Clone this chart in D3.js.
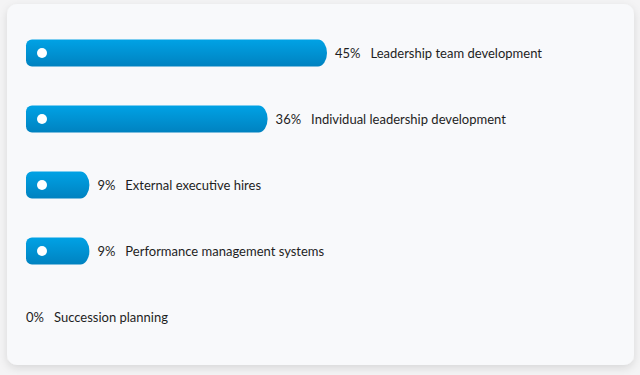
<!DOCTYPE html>
<html>
<head>
<meta charset="utf-8">
<script src="https://cdn.jsdelivr.net/npm/d3@7"></script>
<style>
  html, body { margin: 0; padding: 0; background: #f4f4f5; }
  svg { display: block; }
</style>
</head>
<body>
<div id="drawing"></div>
<script>
// data
var categories = ["Leadership team development", "Individual leadership development",
  "External executive hires", "Performance management systems", "Succession planning"];
var values = [45, 36, 9, 9, 0];
var valueLabels = ["45%", "36%", "9%", "9%", "0%"];

var width = 640;
var height = 375;
var left = 26;
var barH = 27;

var svg = d3.select("#drawing").append("svg")
  .attr("width", width)
  .attr("height", height);

var defs = svg.append("defs");

var grad = defs.append("linearGradient")
  .attr("id", "barGrad")
  .attr("x1", 0).attr("y1", 0).attr("x2", 0).attr("y2", 1);
grad.append("stop").attr("offset", "0%").attr("stop-color", "#00a2e5");
grad.append("stop").attr("offset", "100%").attr("stop-color", "#0082c0");

var shadow = defs.append("filter")
  .attr("id", "cardShadow")
  .attr("x", "-10%").attr("y", "-10%").attr("width", "120%").attr("height", "125%");
shadow.append("feDropShadow")
  .attr("dx", 0).attr("dy", 3)
  .attr("stdDeviation", 4)
  .attr("flood-color", "#000")
  .attr("flood-opacity", 0.12);

// card
svg.append("rect")
  .attr("x", 7).attr("y", 4)
  .attr("width", 627).attr("height", 361)
  .attr("rx", 10)
  .attr("fill", "#f8f9fb")
  .attr("filter", "url(#cardShadow)");

// scales
var xScale = d3.scaleLinear().domain([0, 45]).range([4, 301]);
var yScale = d3.scalePoint().domain(categories).range([53, 317]);

// bar shape: small radius left, elliptical right end
function barPath(w, cy) {
  var y0 = cy - barH / 2, y1 = cy + barH / 2;
  var r = 6, rx = 9, ry = barH / 2;
  return "M" + (left + r) + "," + y0 +
    "H" + (left + w - rx) +
    "A" + rx + "," + ry + " 0 0 1 " + (left + w - rx) + "," + y1 +
    "H" + (left + r) +
    "A" + r + "," + r + " 0 0 1 " + left + "," + (y1 - r) +
    "V" + (y0 + r) +
    "A" + r + "," + r + " 0 0 1 " + (left + r) + "," + y0 + "Z";
}

var rows = categories.map(function (c, i) {
  return { cat: c, v: values[i], lab: valueLabels[i] };
});

var g = svg.append("g");

g.selectAll(".bar")
  .data(rows.filter(function (d) { return d.v > 0; }))
  .enter()
  .append("path")
  .attr("class", "bar")
  .attr("d", function (d) { return barPath(xScale(d.v), yScale(d.cat)); })
  .attr("fill", "url(#barGrad)");

g.selectAll(".dot")
  .data(rows.filter(function (d) { return d.v > 0; }))
  .enter()
  .append("circle")
  .attr("class", "dot")
  .attr("cx", left + 16)
  .attr("cy", function (d) { return yScale(d.cat); })
  .attr("r", 5)
  .attr("fill", "#ffffff");

var txt = g.selectAll(".label")
  .data(rows)
  .enter()
  .append("text")
  .attr("class", "label")
  .attr("x", function (d) { return d.v > 0 ? left + xScale(d.v) + 8 : left; })
  .attr("y", function (d) { return yScale(d.cat); })
  .attr("dy", "0.35em")
  .style("font-family", "Lato, sans-serif")
  .style("font-size", "13px")
  .style("fill", "#1e1e1e");

txt.append("tspan").text(function (d) { return d.lab; });
txt.append("tspan").attr("dx", 10).text(function (d) { return d.cat; });
</script>
</body>
</html>
